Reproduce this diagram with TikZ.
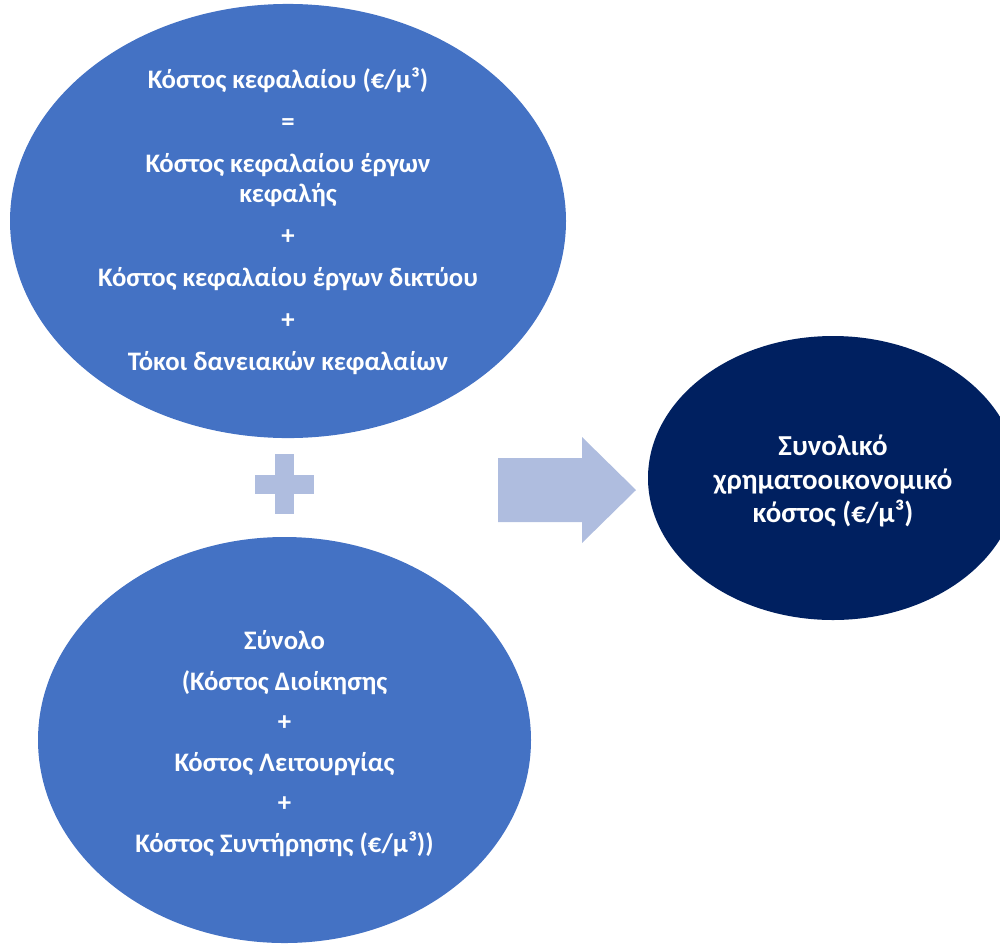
\documentclass[tikz,border=0pt]{standalone}
\usepackage{fontspec}
\setmainfont{Carlito}
\usetikzlibrary{shapes.geometric}
\definecolor{midblue}{RGB}{68,114,196}
\definecolor{navyblue}{RGB}{0,32,96}
\definecolor{paleblue}{RGB}{175,189,223}
\begin{document}
\begin{tikzpicture}[x=1pt,y=-1pt,
  blob/.style={ellipse, inner sep=0pt, align=center, text=white,
    font=\bfseries\fontsize{26.7}{30}\selectfont},
  bigblob/.style={blob, font=\bfseries\fontsize{28.9}{33.5}\selectfont},
  sign/.style={fill=paleblue}]
\useasboundingbox (0,0) rectangle (1000,943);
\node[blob, fill=midblue, minimum width=556, minimum height=420] (capital) at (288,221)
  {Κόστος κεφαλαίου (€/μ³)\\[12pt] =\\[12pt] Κόστος κεφαλαίου έργων\\ κεφαλής\\[12pt] +\\[12pt]
   Κόστος κεφαλαίου έργων δικτύου\\[12pt] +\\[12pt] Τόκοι δανειακών κεφαλαίων};
\node[blob, fill=midblue, minimum width=493, minimum height=406] (running) at (284.5,740)
  {\rule{0pt}{26pt}Σύνολο\\[10.6pt] (Κόστος Διοίκησης\\[10.6pt] +\\[10.6pt] Κόστος Λειτουργίας\\[10.6pt] +\\[10.6pt]
   Κόστος Συντήρησης (€/μ³))};
\node[bigblob, fill=navyblue, minimum width=370, minimum height=284] (total) at (833,478)
  {\rule{0pt}{27pt}Συνολικό\\ χρηματοοικονομικό\\ κόστος (€/μ³)};
\coordinate (plus) at (284.5,484);
\fill[sign] ([xshift=-9.5pt,yshift=30pt]plus) rectangle ([xshift=9.5pt,yshift=-30pt]plus);
\fill[sign] ([xshift=-29.5pt,yshift=9.5pt]plus) rectangle ([xshift=29.5pt,yshift=-9.5pt]plus);
\coordinate (tip) at (636,490);
\fill[sign] (498,458) -- (582,458) -- (582,437) -- (tip) -- (582,543) -- (582,522) -- (498,522) -- cycle;
\end{tikzpicture}
\end{document}
